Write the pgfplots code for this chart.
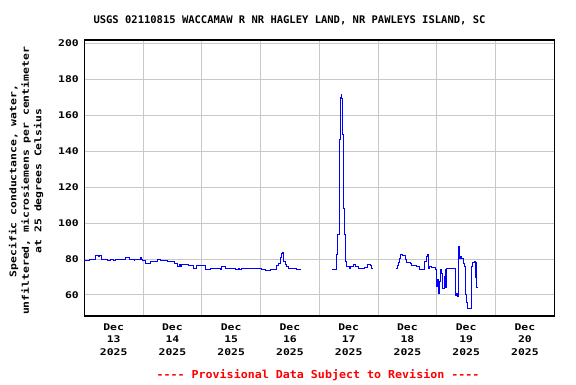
\documentclass[border=0pt]{standalone}
\usepackage{pgfplots}
\pgfplotsset{compat=1.18}
\usepackage{fontspec}
\newfontfamily\labfont[FakeStretch=1.24]{DejaVu Sans Mono}
\newfontfamily\titfont{DejaVu Sans Mono}
\newfontfamily\footfont[FakeStretch=1.06]{DejaVu Sans Mono}
\definecolor{gridgray}{RGB}{200,200,200}
\definecolor{lineblue}{RGB}{0,0,255}
\definecolor{footred}{RGB}{255,0,0}
\begin{document}
\begin{tikzpicture}
\useasboundingbox (0,0) rectangle (576pt,384pt);
\begin{axis}[
  at={(84.3pt,68pt)}, anchor=south west,
  scale only axis, width=470pt, height=276pt,
  xmin=0, xmax=8, ymin=48.3, ymax=201.8,
  xtick={0.5,1.5,2.5,3.5,4.5,5.5,6.5,7.5},
  xticklabels={{Dec\\13\\2025},{Dec\\14\\2025},{Dec\\15\\2025},{Dec\\16\\2025},{Dec\\17\\2025},{Dec\\18\\2025},{Dec\\19\\2025},{Dec\\20\\2025}},
  minor xtick={1,2,3,4,5,6,7},
  xminorgrids=true, xmajorgrids=false,
  ytick={60,80,100,120,140,160,180,200},
  ymajorgrids=true,
  major tick length=0pt, minor tick length=0pt,
  grid style={draw=gridgray, line width=1pt},
  minor grid style={draw=gridgray, line width=1pt},
  axis line style={line width=1.2pt, black},
  /pgf/number format/assume math mode=true,
  yticklabel style={font=\labfont\bfseries\fontsize{9.2}{12.7}\selectfont, xshift=-2pt},
  xticklabel style={font=\labfont\bfseries\fontsize{9.2}{12.7}\selectfont, align=center, yshift=-4pt},
  axis on top=false,
  clip=true,
]
\addplot[const plot, lineblue, line width=0.9pt] coordinates {
(0,79.2) (0.080,80) (0.194,82) (0.233,81.5) (0.250,82) (0.289,80) (0.391,79.2) (0.437,80) (0.489,79.2)
(0.534,79.5) (0.705,81) (0.773,80) (0.846,79.2) (0.858,80) (0.948,81) (0.970,80) (0.987,79.2)
(1.045,77.8) (1.130,78.5) (1.243,79.8) (1.300,79) (1.413,78.5) (1.527,77.3) (1.583,76) (1.612,76.7)
(1.641,75.6) (1.658,76.8) (1.714,77.2) (1.770,76.3) (1.855,75) (1.901,76.3) (2.055,74.4) (2.140,75)
(2.310,74) (2.339,75.7) (2.395,75) (2.565,74.2) (2.617,75) (2.634,74.2) (2.679,75) (3.020,74)
(3.076,73.5) (3.161,74) (3.246,74.4) (3.275,76.3) (3.302,77.8) (3.331,81) (3.360,83.3) (3.377,83.9)
(3.387,78.5) (3.416,76.8) (3.445,75.9) (3.472,75) (3.615,74.1) (3.689,74.1)
};
\addplot[const plot, lineblue, line width=0.9pt] coordinates {
(4.221,74.4) (4.296,82.4) (4.313,93.5) (4.335,146.3) (4.352,169.8) (4.369,171.7) (4.381,169.4)
(4.391,149) (4.409,108.3) (4.426,93.5) (4.449,78.7) (4.466,75.9) (4.506,74.8) (4.523,76)
(4.579,77) (4.608,76) (4.664,75) (4.766,75.3) (4.824,77) (4.863,76.3) (4.892,75) (4.919,75)
};
\addplot[const plot, lineblue, line width=0.9pt] coordinates {
(5.306,75) (5.323,76.5) (5.345,78.1) (5.365,80.5) (5.386,82.4) (5.420,82) (5.459,79.6) (5.488,78.1)
(5.544,77.4) (5.573,76.5) (5.658,75.9) (5.702,74.1) (5.787,78.5) (5.816,81.5) (5.838,82.4) (5.855,75)
(5.867,75.9) (5.913,75.5) (5.969,74.1) (5.998,64.8) (6.015,68.5) (6.026,61.1) (6.043,67.6) (6.054,74.1)
(6.071,72.2) (6.100,63.9) (6.128,70.4) (6.140,74.1) (6.153,64) (6.165,75) (6.310,60) (6.327,61.1)
(6.349,59.3) (6.366,87) (6.378,80.5) (6.395,81.5) (6.424,80.5) (6.451,77.8) (6.468,75.9) (6.492,60.2)
(6.509,55.6) (6.526,52.4) (6.591,75.9) (6.611,78.1) (6.633,78.5) (6.650,70) (6.659,78) (6.676,64) (6.685,64)
};
\end{axis}
\node[font=\titfont\bfseries\fontsize{10.5}{12}\selectfont, anchor=center] at (289.5pt,363.5pt) {USGS 02110815 WACCAMAW R NR HAGLEY LAND, NR PAWLEYS ISLAND, SC};
\node[font=\labfont\bfseries\fontsize{9.2}{12.5}\selectfont, align=center, rotate=90, anchor=center] at (26pt,203pt) {Specific conductance, water,\\unfiltered, microsiemens per centimeter\\at 25 degrees Celsius};
\node[font=\footfont\bfseries\fontsize{11}{12}\selectfont, text=footred, anchor=center] at (318pt,9.3pt) {---- Provisional Data Subject to Revision ----};
\end{tikzpicture}
\end{document}
